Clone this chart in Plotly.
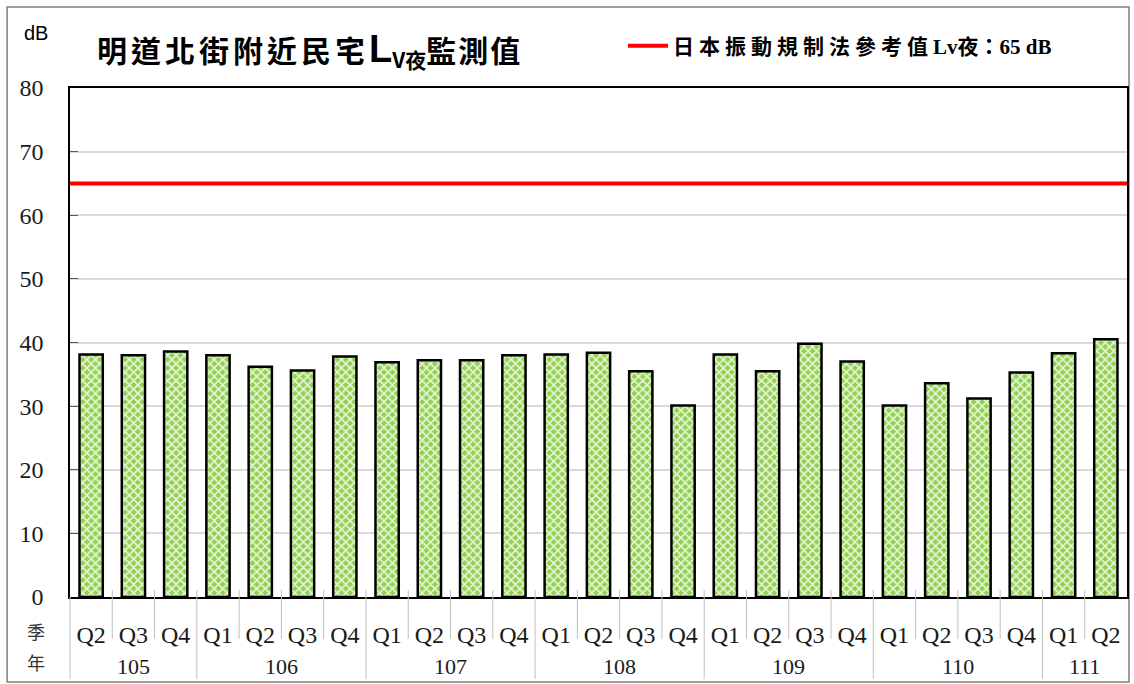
import plotly.graph_objects as go

years = ["105"]*3 + ["106"]*4 + ["107"]*4 + ["108"]*4 + ["109"]*4 + ["110"]*4 + ["111"]*2
quarters = ["Q2","Q3","Q4",
            "Q1","Q2","Q3","Q4",
            "Q1","Q2","Q3","Q4",
            "Q1","Q2","Q3","Q4",
            "Q1","Q2","Q3","Q4",
            "Q1","Q2","Q3","Q4",
            "Q1","Q2"]
values = [38.1, 38.0, 38.6,
          38.0, 36.2, 35.6, 37.8,
          36.9, 37.2, 37.2, 38.0,
          38.1, 38.4, 35.5, 30.1,
          38.1, 35.5, 39.8, 37.0,
          30.1, 33.6, 31.2, 35.3,
          38.3, 40.5]
ref_value = 65
ref_name_cjk = "日本振動規制法參考值"
ref_name_rest = "Lv夜：65 dB"
y_ticks = [0, 10, 20, 30, 40, 50, 60, 70, 80]

W, H = 1134, 684
ML, MR, MT, MB = 70, 5, 88, 87
PW, PH = W - ML - MR, H - MT - MB

def px_x(p):
    return (p - ML) / PW

def px_y(p):
    return (H - MB - p) / PH

idx = list(range(len(values)))

fig = go.Figure()
fig.add_trace(go.Bar(
    x=idx, y=values,
    marker=dict(color="#92D050",
                line=dict(color="black", width=2.5),
                pattern=dict(shape="x", fgcolor="white", bgcolor="#92D050",
                             size=6, solidity=0.45, fgopacity=0.8)),
    showlegend=False,
))

fig.add_shape(type="line", xref="paper", yref="y", x0=0, x1=1,
              y0=ref_value, y1=ref_value,
              line=dict(color="#FF0000", width=4),
              showlegend=True,
              name="<span style='letter-spacing:5px'><b>" + ref_name_cjk + "</b></span><b>" + ref_name_rest + "</b>")

# quarter separators and year dividers
groups = []
for i, yv in enumerate(years):
    if not groups or groups[-1][0] != yv:
        groups.append([yv, i, i])
    else:
        groups[-1][2] = i
starts = {g[1] for g in groups}
for i in idx:
    if i == 0:
        continue
    if i in starts:
        fig.add_shape(type="line", xref="x", yref="paper", x0=i - 0.5, x1=i - 0.5,
                      y0=px_y(590), y1=px_y(679), line=dict(color="#bfbfbf", width=1))
    else:
        fig.add_shape(type="line", xref="x", yref="paper", x0=i - 0.5, x1=i - 0.5,
                      y0=px_y(590), y1=px_y(639), line=dict(color="#bfbfbf", width=1))
fig.add_shape(type="line", xref="paper", yref="paper", x0=0, x1=0,
              y0=0, y1=px_y(679), line=dict(color="#bfbfbf", width=1))
for g in groups:
    fig.add_annotation(xref="x", yref="paper", x=(g[1] + g[2]) / 2, y=px_y(666),
                       xanchor="center", yanchor="middle", showarrow=False, text=g[0],
                       font=dict(family="Liberation Serif", size=22, color="#1a1a1a"))

# outer frame
fig.add_shape(type="rect", xref="paper", yref="paper",
              x0=px_x(7), x1=px_x(1131), y0=px_y(682), y1=px_y(7),
              line=dict(color="#7f7f7f", width=1.5), layer="below")

fig.update_layout(
    width=W, height=H,
    margin=dict(l=ML, r=MR, t=MT, b=MB),
    plot_bgcolor="white", paper_bgcolor="white",
    bargap=0.45,
    showlegend=True,
    legend=dict(x=px_x(624), y=px_y(46), xanchor="left", yanchor="middle",
                font=dict(family="Liberation Serif, Noto Sans CJK TC", size=21, color="black"),
                bgcolor="rgba(0,0,0,0)", itemwidth=40),
    xaxis=dict(range=[-0.5, len(values) - 0.5], tickvals=idx, ticktext=quarters,
               showline=True, linecolor="black", linewidth=1.5, mirror=True,
               ticks="", ticklabelstandoff=15,
               tickfont=dict(family="Liberation Serif", size=24, color="#1a1a1a"),
               showgrid=False, zeroline=False),
    yaxis=dict(range=[0, 80], tickvals=y_ticks,
               showline=True, linecolor="black", linewidth=1.5, mirror=True,
               ticks="inside", ticklen=8, tickcolor="#595959",
               gridcolor="#d9d9d9", gridwidth=1.5,
               tickfont=dict(family="Liberation Serif", size=24, color="#1a1a1a"),
               ticklabelstandoff=20,
               zeroline=False),
)

fig.add_annotation(xref="paper", yref="paper", x=px_x(95), y=px_y(50),
                   xanchor="left", yanchor="middle", showarrow=False,
                   text="<span style='letter-spacing:4px'><b>明道北街附近民宅</b></span><b><span style='font-family:Liberation Sans;font-size:38px'>L</span></b><sub><b>V夜</b></sub><span style='letter-spacing:2px'><b>監測值</b></span>",
                   font=dict(family="Noto Sans CJK TC", size=30, color="black"))
fig.add_annotation(xref="paper", yref="paper", x=px_x(36), y=px_y(33),
                   xanchor="center", yanchor="middle", showarrow=False,
                   text="dB", font=dict(family="Liberation Sans", size=20, color="black"))
fig.add_annotation(xref="paper", yref="paper", x=px_x(36), y=px_y(631),
                   xanchor="center", yanchor="middle", showarrow=False,
                   text="季", font=dict(family="Noto Sans CJK TC", size=18, color="#333333"))
fig.add_annotation(xref="paper", yref="paper", x=px_x(36), y=px_y(662),
                   xanchor="center", yanchor="middle", showarrow=False,
                   text="年", font=dict(family="Noto Sans CJK TC", size=18, color="#333333"))

fig.write_html("out.html", config={"displayModeBar": False},
               post_script="document.body.style.margin='0';document.body.style.padding='0';")
